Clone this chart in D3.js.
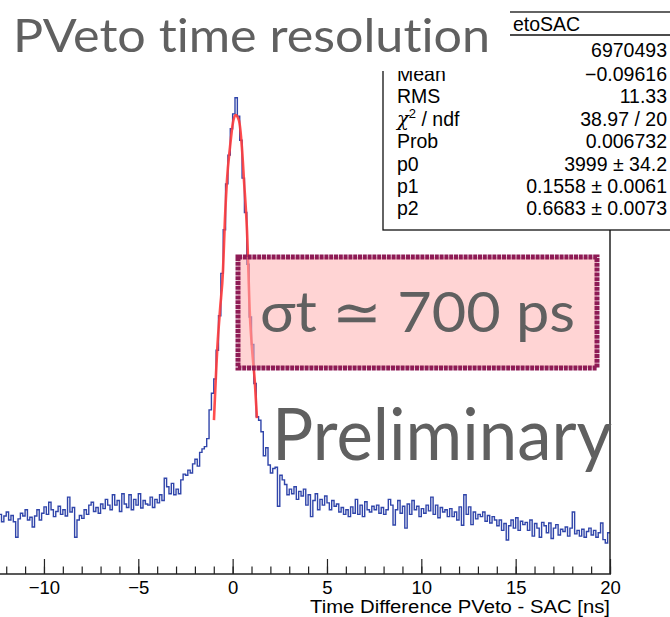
<!DOCTYPE html>
<html>
<head>
<meta charset="utf-8">
<script src="https://cdn.jsdelivr.net/npm/d3@7"></script>
<style>
  body { margin: 0; background: #fff; }
  svg { display: block; }
  .slide { font-variant-ligatures: none; font-feature-settings: "liga" 0, "dlig" 0; }
</style>
</head>
<body>
<svg id="chart" width="670" height="617"></svg>
<script>
// histogram: 0.125 ns bins starting at -12.5 ns, one row of 8 bins per ns
const binStart = -12.5;
const binWidth = 0.125;
const counts = [
  470, 520, 455, 505, 540, 470, 510, 455,   // -12.5
  320, 480, 530, 505, 560, 470, 495, 410,   // -11.5
  505, 560, 470, 530, 585, 520, 625, 560,   // -10.5
  500, 545, 590, 520, 560, 505, 670, 540,   // -9.5
  580, 320, 470, 510, 485, 560, 520, 600,   // -8.5
  625, 545, 580, 530, 610, 570, 650, 600,   // -7.5
  560, 690, 600, 640, 545, 700, 610, 580,   // -6.5
  690, 560, 650, 600, 700, 575, 640, 610,   // -5.5
  600, 670, 580, 650, 620, 690, 640, 835,   // -4.5
  760, 700, 790, 690, 740, 700, 820, 870,   // -3.5
  860, 905, 880, 960, 1000, 940, 1060, 1090, // -2.5
  1110, 1180, 1430, 1575, 1700, 1950, 2250, 2620, // -1.5
  3000, 3400, 3650, 3880, 4010, 4150, 3990, 3780, // -0.5
  3450, 3150, 2700, 2240, 2000, 1660, 1370, 1340, // 0.5
  1240, 1030, 1100, 950, 880, 920, 930, 590,  // 1.5
  860, 820, 780, 690, 740, 700, 760, 650,   // 2.5
  720, 680, 740, 600, 690, 500, 640, 700,   // 3.5
  560, 650, 600, 680, 620, 560, 640, 590,   // 4.5
  610, 540, 580, 520, 560, 500, 585, 530,   // 5.5
  650, 520, 600, 500, 630, 560, 540, 590,   // 6.5
  560, 600, 530, 580, 520, 560, 650, 600,   // 7.5
  427, 560, 640, 530, 590, 400, 610, 520,   // 8.5
  640, 560, 590, 500, 570, 530, 600, 550,   // 9.5
  670, 520, 600, 490, 580, 540, 560, 500,   // 10.5
  570, 500, 540, 470, 585, 425, 690, 520,   // 11.5
  585, 430, 540, 480, 520, 500, 540, 460,   // 12.5
  510, 445, 500, 470, 420, 470, 380, 440,   // 13.5
  296, 420, 470, 400, 490, 380, 460, 430,   // 14.5
  450, 380, 470, 330, 440, 400, 320, 450,   // 15.5
  420, 360, 445, 310, 400, 430, 340, 390,   // 16.5
  370, 410, 330, 400, 540, 350, 380, 330,   // 17.5
  390, 320, 370, 400, 340, 380, 320, 360,   // 18.5
  445, 300, 270, 360                        // 19.5
];

// gaussian fit curve as drawn
const fitT = [-0.99, -0.80, -0.67, -0.51, -0.41, -0.30, -0.14, 0.02, 0.15, 0.33, 0.49, 0.60, 0.76, 0.92, 1.01, 1.18, 1.29];
const fitV = [1341, 2003, 2300, 2648, 3084, 3432, 3720, 3937, 3999, 3955, 3720, 3432, 2997, 2239, 2003, 1664, 1359];

// stats box (the entries label sits under the slide title, so it is left blank)
const statLabels = ["", "Mean", "RMS", "chi2", "Prob", "p0", "p1", "p2"];
const statValues = ["6970493", "\u22120.09616", "11.33", "38.97 / 20", "0.006732", "3999 \u00b1 34.2", "0.1558 \u00b1 0.0061", "0.6683 \u00b1 0.0073"];

const majorTicks = [-10, -5, 0, 5, 10, 15, 20];
const minorTicks = d3.range(-12, 21, 1);

const svg = d3.select("#chart");

const x = d3.scaleLinear().domain([-12.33, 20]).range([0, 610]);
const y = d3.scaleLinear().domain([0, 4000]).range([574, 115]);

svg.append("defs").append("clipPath").attr("id", "plot-clip")
  .append("rect").attr("x", 0).attr("y", 0).attr("width", 610).attr("height", 574);

// histogram as a step line
const steps = counts.map((c, i) => [binStart + i * binWidth, c]);
steps.push([binStart + counts.length * binWidth, counts[counts.length - 1]]);

const histLine = d3.line()
  .x(d => x(d[0]))
  .y(d => y(d[1]))
  .curve(d3.curveStepAfter);

const plot = svg.append("g").attr("clip-path", "url(#plot-clip)");

plot.append("path")
  .datum(steps)
  .attr("fill", "none")
  .attr("stroke", "#3045aa")
  .attr("stroke-width", 1.4)
  .attr("d", histLine);

// fit curve
const fitLine = d3.line()
  .x((d, i) => x(fitT[i]))
  .y(d => y(d))
  .curve(d3.curveMonotoneX);

plot.append("path")
  .datum(fitV)
  .attr("fill", "none")
  .attr("stroke", "#ff3b3b")
  .attr("stroke-width", 2.6)
  .attr("stroke-opacity", 0.9)
  .attr("d", fitLine);

// x axis: minor and major ticks pointing up
const axisG = svg.append("g").attr("transform", "translate(0,574)");

axisG.append("g")
  .call(d3.axisBottom(x).tickValues(minorTicks).tickSize(-7.5).tickFormat(""))
  .call(g => g.select(".domain").remove());

axisG.append("g")
  .call(d3.axisBottom(x).tickValues(majorTicks).tickSize(-15).tickPadding(7).tickFormat(d3.format("d")))
  .call(g => g.select(".domain").remove())
  .call(g => g.selectAll("text")
    .attr("font-family", "'Liberation Sans', Arial, sans-serif")
    .attr("font-size", 18.5)
    .attr("fill", "#000"));

axisG.selectAll(".tick line").attr("stroke", "#222").attr("stroke-width", 1.2);

axisG.append("line")
  .attr("x1", 0).attr("x2", 611)
  .attr("y1", 0).attr("y2", 0)
  .attr("stroke", "#222").attr("stroke-width", 1.5);

// right frame
svg.append("line")
  .attr("x1", 610).attr("x2", 610)
  .attr("y1", 60).attr("y2", 574)
  .attr("stroke", "#222").attr("stroke-width", 1.5);

svg.append("text")
  .attr("x", 610).attr("y", 613)
  .attr("text-anchor", "end")
  .attr("font-family", "'Liberation Sans', Arial, sans-serif")
  .attr("font-size", 18)
  .attr("textLength", 300)
  .attr("lengthAdjust", "spacingAndGlyphs")
  .text("Time Difference PVeto - SAC [ns]");

// stats box
const stats = svg.append("g")
  .attr("font-family", "'Liberation Sans', Arial, sans-serif")
  .attr("font-size", 19.5)
  .attr("fill", "#000");

stats.append("rect")
  .attr("x", 383).attr("y", 12)
  .attr("width", 320).attr("height", 218)
  .attr("fill", "#fff")
  .attr("stroke", "#111").attr("stroke-width", 1.3);

stats.append("line")
  .attr("x1", 383).attr("x2", 670)
  .attr("y1", 35).attr("y2", 35)
  .attr("stroke", "#111").attr("stroke-width", 1.3);

stats.append("text").attr("x", 513).attr("y", 31).text("etoSAC");

const rowY = [56.5, 80.5, 103, 125.5, 148, 170.5, 192.5, 215];

statLabels.forEach((lab, i) => {
  if (!lab) return;
  const t = stats.append("text").attr("x", 397).attr("y", rowY[i]);
  if (lab === "chi2") {
    t.append("tspan").attr("font-family", "'DejaVu Serif', serif").attr("font-style", "italic").text("\u03c7");
    t.append("tspan").attr("font-size", 13).attr("dy", -8).text("2");
    t.append("tspan").attr("dy", 8).text(" / ndf");
  } else {
    t.text(lab);
  }
});

statValues.forEach((v, i) => {
  stats.append("text")
    .attr("x", 667).attr("y", rowY[i])
    .attr("text-anchor", "end")
    .text(v);
});

// slide overlay: white area behind the title
svg.append("rect")
  .attr("x", 0).attr("y", 0)
  .attr("width", 510).attr("height", 71)
  .attr("fill", "#fff");

svg.append("text")
  .attr("class", "slide")
  .attr("x", 13).attr("y", 52)
  .attr("font-family", "Lato, 'Open Sans', sans-serif")
  .attr("font-size", 47)
  .attr("fill", "#606060")
  .attr("textLength", 477)
  .attr("lengthAdjust", "spacingAndGlyphs")
  .text("PVeto time resolution");

// pink annotation box
svg.append("rect")
  .attr("x", 238).attr("y", 257)
  .attr("width", 359).attr("height", 111)
  .attr("fill", "#ffb0b0").attr("fill-opacity", 0.55)
  .attr("stroke", "#8e1b55").attr("stroke-width", 5)
  .attr("stroke-dasharray", "4 0.8");

svg.append("text")
  .attr("class", "slide")
  .attr("x", 260).attr("y", 332)
  .attr("font-family", "Lato, 'Open Sans', sans-serif")
  .attr("font-size", 57)
  .attr("fill", "#606060")
  .attr("textLength", 315)
  .attr("lengthAdjust", "spacingAndGlyphs")
  .text("\u03c3t \u2243 700 ps");

svg.append("text")
  .attr("class", "slide")
  .attr("x", 272).attr("y", 460)
  .attr("font-family", "Lato, 'Open Sans', sans-serif")
  .attr("font-size", 72)
  .attr("fill", "#606060")
  .attr("textLength", 340)
  .attr("lengthAdjust", "spacingAndGlyphs")
  .text("Preliminary");
</script>
</body>
</html>
